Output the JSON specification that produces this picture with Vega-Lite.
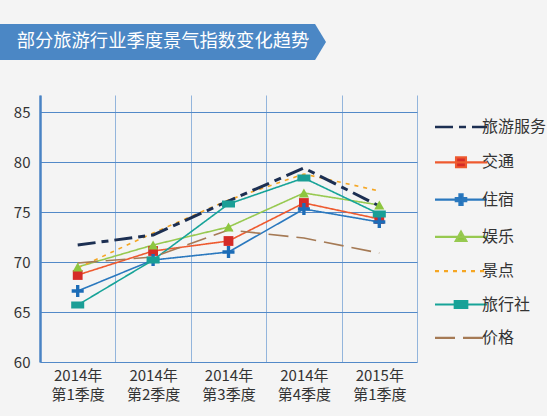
{
  "$schema": "https://vega.github.io/schema/vega-lite/v6.json",
  "background": "#f4f4f4",
  "padding": {"left": 0, "top": 24, "right": 0, "bottom": 14},
  "config": {
    "font": "Noto Sans CJK SC",
    "view": {"stroke": null}
  },
  "datasets": {
    "banner": [{"title": "部分旅游行业季度景气指数变化趋势"}],
    "index": [
      {"q": "2014年 第1季度", "series": "旅游服务", "v": 71.7},
      {"q": "2014年 第2季度", "series": "旅游服务", "v": 72.7},
      {"q": "2014年 第3季度", "series": "旅游服务", "v": 76.1},
      {"q": "2014年 第4季度", "series": "旅游服务", "v": 79.4},
      {"q": "2015年 第1季度", "series": "旅游服务", "v": 75.6},
      {"q": "2014年 第1季度", "series": "交通", "v": 68.7},
      {"q": "2014年 第2季度", "series": "交通", "v": 71.1},
      {"q": "2014年 第3季度", "series": "交通", "v": 72.1},
      {"q": "2014年 第4季度", "series": "交通", "v": 75.9},
      {"q": "2015年 第1季度", "series": "交通", "v": 74.3},
      {"q": "2014年 第1季度", "series": "住宿", "v": 67.1},
      {"q": "2014年 第2季度", "series": "住宿", "v": 70.2},
      {"q": "2014年 第3季度", "series": "住宿", "v": 71.0},
      {"q": "2014年 第4季度", "series": "住宿", "v": 75.3},
      {"q": "2015年 第1季度", "series": "住宿", "v": 74.0},
      {"q": "2014年 第1季度", "series": "娱乐", "v": 69.5},
      {"q": "2014年 第2季度", "series": "娱乐", "v": 71.7},
      {"q": "2014年 第3季度", "series": "娱乐", "v": 73.5},
      {"q": "2014年 第4季度", "series": "娱乐", "v": 76.9},
      {"q": "2015年 第1季度", "series": "娱乐", "v": 75.7},
      {"q": "2014年 第1季度", "series": "景点", "v": 69.4},
      {"q": "2014年 第2季度", "series": "景点", "v": 72.9},
      {"q": "2014年 第3季度", "series": "景点", "v": 76.2},
      {"q": "2014年 第4季度", "series": "景点", "v": 78.8},
      {"q": "2015年 第1季度", "series": "景点", "v": 77.1},
      {"q": "2014年 第1季度", "series": "旅行社", "v": 65.7},
      {"q": "2014年 第2季度", "series": "旅行社", "v": 70.2},
      {"q": "2014年 第3季度", "series": "旅行社", "v": 75.8},
      {"q": "2014年 第4季度", "series": "旅行社", "v": 78.4},
      {"q": "2015年 第1季度", "series": "旅行社", "v": 74.8},
      {"q": "2014年 第1季度", "series": "价格", "v": 69.9},
      {"q": "2014年 第2季度", "series": "价格", "v": 70.5},
      {"q": "2014年 第3季度", "series": "价格", "v": 73.2},
      {"q": "2014年 第4季度", "series": "价格", "v": 72.4},
      {"q": "2015年 第1季度", "series": "价格", "v": 70.9}
    ]
  },
  "spacing": 35,
  "vconcat": [
    {
      "width": 246,
      "height": 36,
      "data": {"name": "banner"},
      "layer": [
        {
          "mark": {
            "type": "point",
            "shape": "M-1,-0.11L0.933,-0.11L1,0L0.933,0.11L-1,0.11Z",
            "size": 106276,
            "filled": true,
            "color": "#4b87c5",
            "opacity": 1
          },
          "encoding": {}
        },
        {
          "mark": {"type": "text", "color": "#ffffff", "fontSize": 18.3},
          "encoding": {"text": {"field": "title"}}
        }
      ]
    },
    {
      "width": 377,
      "height": 267,
      "data": {"name": "index"},
      "encoding": {
        "x": {
          "field": "q",
          "type": "nominal",
          "sort": ["2014年 第1季度", "2014年 第2季度", "2014年 第3季度", "2014年 第4季度", "2015年 第1季度"],
          "scale": {"type": "band", "paddingInner": 0, "paddingOuter": 0},
          "axis": {
            "title": null,
            "tickBand": "extent",
            "grid": true,
            "gridColor": "#93b5dc",
            "domain": false,
            "ticks": false,
            "labelAngle": 0,
            "labelFontSize": 15,
            "labelColor": "#333333",
            "labelPadding": 6,
            "labelLineHeight": 19,
            "labelExpr": "split(datum.label, ' ')"
          }
        },
        "y": {
          "field": "v",
          "type": "quantitative",
          "scale": {"domain": [60, 86.7], "nice": false, "zero": false},
          "axis": {
            "title": null,
            "values": [60, 65, 70, 75, 80, 85],
            "grid": true,
            "gridColor": "#5289c8",
            "gridWidth": 1.2,
            "domainColor": "#4a83c4",
            "domainWidth": 2.5,
            "ticks": false,
            "labelPadding": 10,
            "labelFontSize": 15,
            "labelColor": "#333333",
            "minExtent": 40,
            "maxExtent": 40
          }
        }
      },
      "layer": [
        {
          "transform": [{"filter": "datum.series != '旅游服务'"}],
          "mark": {"type": "line", "strokeWidth": 1.6},
          "encoding": {
            "color": {
              "field": "series",
              "type": "nominal",
              "scale": {
                "domain": ["旅游服务", "交通", "住宿", "娱乐", "景点", "旅行社", "价格"],
                "range": ["#1c2f52", "#ee5a2f", "#2a78be", "#97c950", "#f5a623", "#17a398", "#a57a55"]
              },
              "legend": {
                "orient": "none",
                "legendX": 413,
                "legendY": 95,
                "title": null,
                "symbolSize": 2704,
                "labelFontSize": 16,
                "labelColor": "#333333",
                "labelOffset": 13,
                "rowPadding": 17.3,
                "encode": {
                  "symbols": {
                    "update": {
                      "shape": {"signal": "datum.value == '交通' ? 'M-1,0L1,0M-0.19,-0.19L0.19,-0.19L0.19,0.19L-0.19,0.19Z' : datum.value == '住宿' ? 'M-1,0L1,0M-0.06,-0.2L0.06,-0.2L0.06,-0.06L0.2,-0.06L0.2,0.06L0.06,0.06L0.06,0.2L-0.06,0.2L-0.06,0.06L-0.2,0.06L-0.2,-0.06L-0.06,-0.06Z' : datum.value == '娱乐' ? 'M-1,0L1,0M0,-0.2L0.2,0.15L-0.2,0.15Z' : datum.value == '旅行社' ? 'M-1,0L1,0M-0.24,-0.13L0.24,-0.13L0.24,0.13L-0.24,0.13Z' : 'M-1,0L1,0'"},
                      "fill": {"signal": "datum.value == '交通' ? '#d52b27' : datum.value == '住宿' ? '#1c6cb7' : datum.value == '娱乐' ? '#8dc63f' : datum.value == '旅行社' ? '#1a9e96' : 'transparent'"},
                      "strokeDash": {"signal": "datum.value == '旅游服务' ? [20,6,7,6] : datum.value == '景点' ? [4,6] : datum.value == '价格' ? [20,10] : [1,0]"},
                      "strokeWidth": {"signal": "datum.value == '旅游服务' ? 2.5 : 2.2"}
                    }
                  }
                }
              }
            },
            "strokeDash": {
              "field": "series",
              "type": "nominal",
              "scale": {
                "domain": ["旅游服务", "交通", "住宿", "娱乐", "景点", "旅行社", "价格"],
                "range": [[18, 6, 7, 6], [1, 0], [1, 0], [1, 0], [4, 5], [1, 0], [20, 8]]
              },
              "legend": null
            }
          }
        },
        {
          "transform": [{"filter": "datum.series == '旅游服务'"}],
          "mark": {"type": "line", "strokeWidth": 3},
          "encoding": {
            "color": {"field": "series", "type": "nominal"},
            "strokeDash": {"field": "series", "type": "nominal", "legend": null}
          }
        },
        {
          "transform": [{"filter": "indexof(['交通', '住宿', '娱乐', '旅行社'], datum.series) >= 0"}],
          "mark": {"type": "point", "filled": true, "opacity": 1, "size": 196},
          "encoding": {
            "fill": {
              "field": "series",
              "type": "nominal",
              "scale": {
                "domain": ["交通", "住宿", "娱乐", "旅行社"],
                "range": ["#d52b27", "#1c6cb7", "#8dc63f", "#1a9e96"]
              },
              "legend": null
            },
            "shape": {
              "field": "series",
              "type": "nominal",
              "scale": {
                "domain": ["交通", "住宿", "娱乐", "旅行社"],
                "range": [
                  "M-0.7,-0.7L0.7,-0.7L0.7,0.7L-0.7,0.7Z",
                  "M-0.24,-0.86L0.24,-0.86L0.24,-0.24L0.86,-0.24L0.86,0.24L0.24,0.24L0.24,0.86L-0.24,0.86L-0.24,0.24L-0.86,0.24L-0.86,-0.24L-0.24,-0.24Z",
                  "M0,-0.64L0.72,0.64L-0.72,0.64Z",
                  "M-0.93,-0.5L0.93,-0.5L0.93,0.5L-0.93,0.5Z"
                ]
              },
              "legend": null
            }
          }
        }
      ]
    }
  ]
}
